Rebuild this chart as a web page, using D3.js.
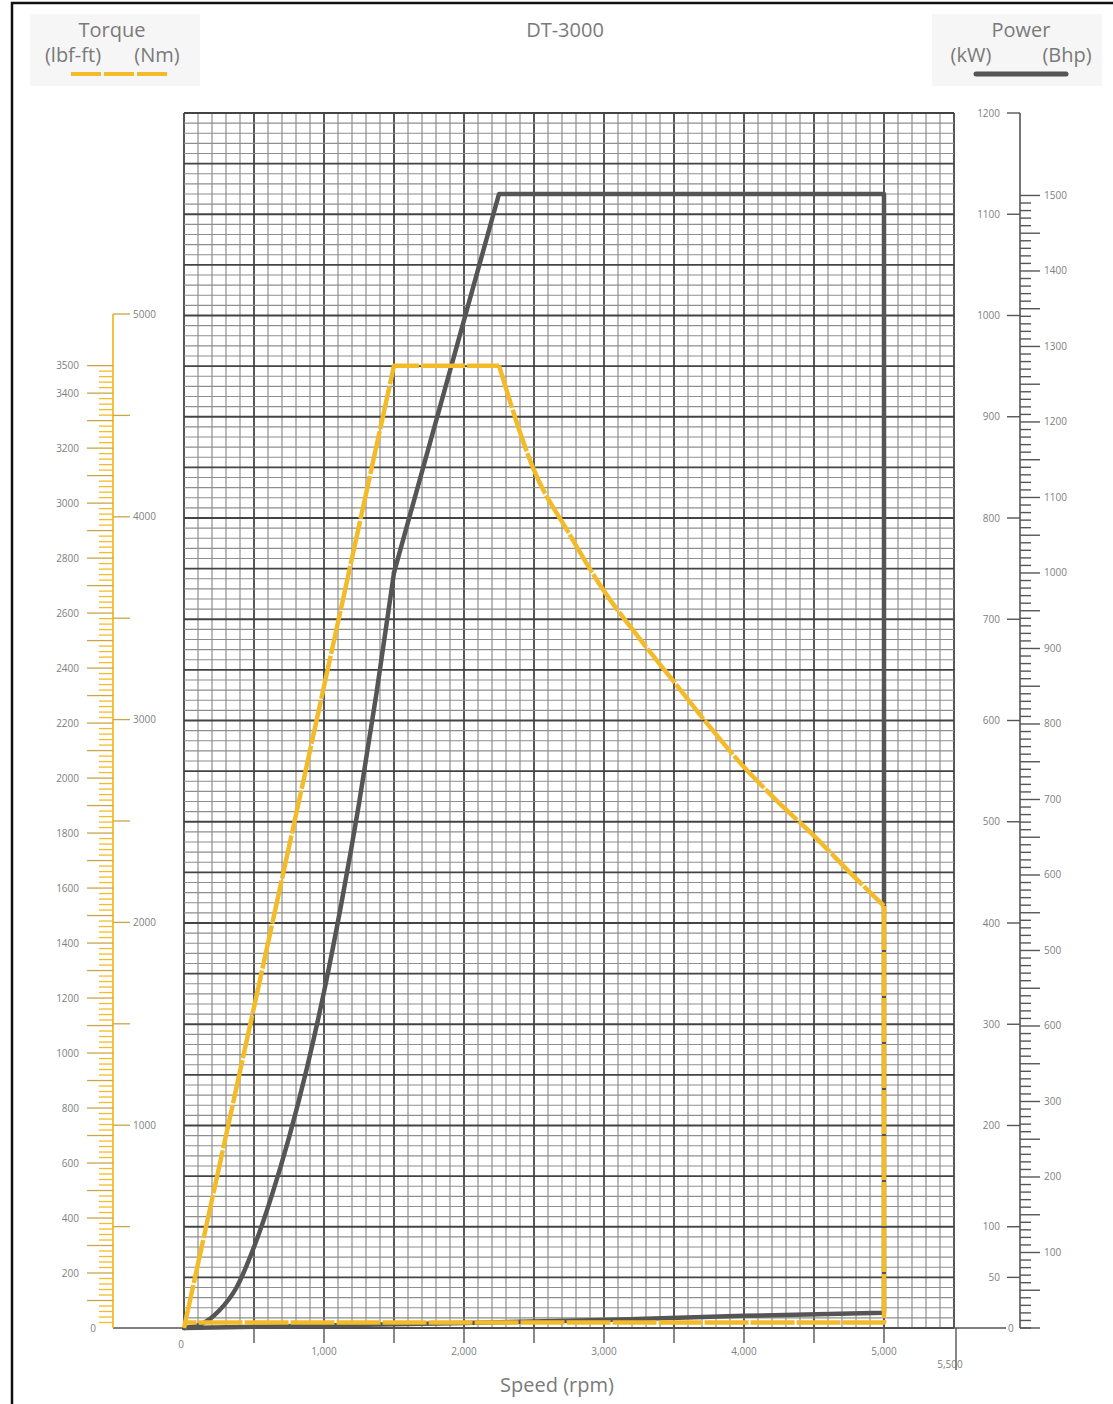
<!DOCTYPE html>
<html>
<head>
<meta charset="utf-8">
<script src="https://cdn.jsdelivr.net/npm/d3@7"></script>
<style>
  html, body { margin: 0; padding: 0; background: #fff; }
  svg { display: block; font-family: "Open Sans", "Liberation Sans", sans-serif; }
  .tick-lbl { font-size: 10px; fill: #808080; }
  .hdr { font-size: 20px; fill: #7a7a7a; }
</style>
</head>
<body>
<svg id="chart" width="1113" height="1404"></svg>
<script>
// speed (rpm) vs torque (lbf-ft); points 2..13 are the curved fall
const torqueSpeed = [0, 1500, 2250, 2500, 2750, 3000, 3250, 3500, 3750, 4000, 4250, 4500, 4750, 5000, 5000, 0];
const torqueLbf   = [0, 3500, 3500, 3120, 2890, 2680, 2510, 2350, 2190, 2040, 1910, 1790, 1660, 1535, 20, 20];

// speed (rpm) vs power (kW); the first 13 points are the curved rise
const powerSpeed = [0, 125, 250, 375, 500, 625, 750, 875, 1000, 1125, 1250, 1375, 1500, 2250, 5000, 5000, 4000, 3000, 2000, 0];
const powerKw    = [0, 4, 17, 40, 80, 130, 188, 255, 332, 420, 518, 627, 746, 1120, 1120, 15, 12, 8, 5, 0];

// axis ticks
const speedTicks = [0, 1000, 2000, 3000, 4000, 5000];
const speedTickLabels = ['0', '1,000', '2,000', '3,000', '4,000', '5,000'];
const kwTicks = [1200, 1100, 1000, 900, 800, 700, 600, 500, 400, 300, 200, 100, 50];
const bhpTicks = [1500, 1400, 1300, 1200, 1100, 1000, 900, 800, 700, 600, 500, 400, 300, 200, 100];
const bhpTickLabels = ['1500', '1400', '1300', '1200', '1100', '1000', '900', '800', '700', '600', '500', '600', '300', '200', '100'];
const lbfTicks = [3500, 3400, 3200, 3000, 2800, 2600, 2400, 2200, 2000, 1800, 1600, 1400, 1200, 1000, 800, 600, 400, 200];
const nmTicks = [5000, 4000, 3000, 2000, 1000];

const YELLOW = '#f3bb2a';
const DARK = '#555555';

const svg = d3.select('#chart');

const x = d3.scaleLinear().domain([0, 5500]).range([184, 954]);
const yKw = d3.scaleLinear().domain([0, 1200]).range([1328, 113]);
const yBhp = d3.scaleLinear().domain([0, 1200 / 0.7457]).range([1328, 113]);
const yNm = d3.scaleLinear().domain([0, 5000]).range([1328, 314]);
const yLbf = d3.scaleLinear().domain([0, 5000 / 1.35582]).range([1328, 314]);

// frame
svg.append('rect').attr('x', 12).attr('y', 3).attr('width', 1130).attr('height', 1430)
  .attr('fill', 'none').attr('stroke', '#111').attr('stroke-width', 2.5);

// faint header boxes like the scan
svg.append('rect').attr('x', 30).attr('y', 14).attr('width', 170).attr('height', 72).attr('fill', '#f6f6f6');
svg.append('rect').attr('x', 932).attr('y', 14).attr('width', 170).attr('height', 72).attr('fill', '#f6f6f6');

// grid
const grid = svg.append('g');
const vLines = d3.range(0, 5501, 100);
const hLines = d3.range(0, 1201, 10);
grid.selectAll('line.v').data(vLines).join('line')
  .attr('x1', d => x(d)).attr('x2', d => x(d))
  .attr('y1', yKw(1200)).attr('y2', yKw(0))
  .attr('stroke', d => d % 500 === 0 ? '#444' : '#8e8e8e')
  .attr('stroke-width', d => d % 500 === 0 ? 1.8 : 1.2);
grid.selectAll('line.h').data(hLines).join('line')
  .attr('x1', x(0)).attr('x2', x(5500))
  .attr('y1', d => yKw(d)).attr('y2', d => yKw(d))
  .attr('stroke', d => d % 50 === 0 ? '#444' : '#8e8e8e')
  .attr('stroke-width', d => d % 50 === 0 ? 1.8 : 1.2);

// baseline
svg.append('line').attr('x1', 113).attr('x2', 1006).attr('y1', yKw(0)).attr('y2', yKw(0))
  .attr('stroke', '#555').attr('stroke-width', 1.6);

// x axis ticks
const xt = svg.append('g');
xt.selectAll('line').data(d3.range(500, 5001, 500)).join('line')
  .attr('x1', d => x(d)).attr('x2', d => x(d))
  .attr('y1', yKw(0)).attr('y2', yKw(0) + 15)
  .attr('stroke', '#555').attr('stroke-width', 1.4);
xt.append('line').attr('x1', x(5500) + 2).attr('x2', x(5500) + 2).attr('y1', yKw(0)).attr('y2', yKw(0) + 42)
  .attr('stroke', '#555').attr('stroke-width', 1.4);
xt.selectAll('text').data(speedTicks).join('text')
  .attr('class', 'tick-lbl')
  .attr('x', d => d === 0 ? x(d) - 3 : x(d))
  .attr('y', d => d === 0 ? yKw(0) + 20 : yKw(0) + 27)
  .attr('text-anchor', 'middle')
  .text((d, i) => speedTickLabels[i]);
xt.append('text').attr('class', 'tick-lbl').attr('x', x(5500) - 4).attr('y', yKw(0) + 40)
  .attr('text-anchor', 'middle').text('5,500');
svg.append('text').attr('class', 'hdr').attr('x', 557).attr('y', 1392)
  .attr('text-anchor', 'middle').attr('fill', '#6a6a6a').text('Speed (rpm)');

// right axis: kW (left side ticks) and Bhp (right side ticks)
const ax = 1020;
const ra = svg.append('g');
ra.append('line').attr('x1', ax).attr('x2', ax).attr('y1', yKw(1200)).attr('y2', yKw(0))
  .attr('stroke', '#555').attr('stroke-width', 1.6);
ra.selectAll('line.kw').data(kwTicks).join('line')
  .attr('x1', ax - 13).attr('x2', ax).attr('y1', d => yKw(d)).attr('y2', d => yKw(d))
  .attr('stroke', '#555').attr('stroke-width', 1.4);
ra.selectAll('text.kw').data(kwTicks).join('text')
  .attr('class', 'tick-lbl').attr('x', ax - 20).attr('y', d => yKw(d) + 3.5)
  .attr('text-anchor', 'end').text(d => d);
ra.append('line').attr('x1', ax).attr('x2', ax + 11).attr('y1', yKw(0)).attr('y2', yKw(0))
  .attr('stroke', '#555').attr('stroke-width', 1.4);
ra.append('text').attr('class', 'tick-lbl').attr('x', 1008).attr('y', yKw(0) + 3.5)
  .attr('text-anchor', 'start').text('0');
const bhpMinor = d3.range(0, 1501, 10);
ra.selectAll('line.bhp').data(bhpMinor).join('line')
  .attr('x1', ax).attr('x2', d => d % 50 === 0 ? ax + 20 : ax + 11)
  .attr('y1', d => yBhp(d)).attr('y2', d => yBhp(d))
  .attr('stroke', '#555').attr('stroke-width', 1.4);
ra.selectAll('text.bhp').data(bhpTicks).join('text')
  .attr('class', 'tick-lbl').attr('x', ax + 24).attr('y', d => yBhp(d) + 3.5)
  .attr('text-anchor', 'start').text((d, i) => bhpTickLabels[i]);

// left axis: lbf-ft (left side ticks) and Nm (right side ticks)
const lx = 113;
const la = svg.append('g');
la.append('line').attr('x1', lx).attr('x2', lx).attr('y1', yNm(5000)).attr('y2', yNm(0))
  .attr('stroke', YELLOW).attr('stroke-width', 1.8);
la.selectAll('line.lbf').data(d3.range(20, 3501, 20)).join('line')
  .attr('x1', d => d % 100 === 0 ? lx - 26 : lx - 14).attr('x2', lx)
  .attr('y1', d => yLbf(d)).attr('y2', d => yLbf(d))
  .attr('stroke', d => d % 100 === 0 ? '#c9a64a' : YELLOW).attr('stroke-width', 1.3);
la.selectAll('text.lbf').data(lbfTicks).join('text')
  .attr('class', 'tick-lbl').attr('x', lx - 34).attr('y', d => yLbf(d) + 3.5)
  .attr('text-anchor', 'end').text(d => d);
la.append('text').attr('class', 'tick-lbl').attr('x', 93).attr('y', yLbf(0) + 3.5)
  .attr('text-anchor', 'middle').text('0');
la.selectAll('line.nm').data(d3.range(500, 5001, 500)).join('line')
  .attr('x1', lx).attr('x2', lx + 17)
  .attr('y1', d => yNm(d)).attr('y2', d => yNm(d))
  .attr('stroke', '#c9a64a').attr('stroke-width', 1.3);
la.selectAll('text.nm').data(nmTicks).join('text')
  .attr('class', 'tick-lbl').attr('x', lx + 20).attr('y', d => yNm(d) + 3.5)
  .attr('text-anchor', 'start').text(d => d);

// curves
const torquePts = torqueSpeed.map((s, i) => [x(s), yLbf(torqueLbf[i])]);
const powerPts = powerSpeed.map((s, i) => [x(s), yKw(powerKw[i])]);
const rise = powerPts.slice(0, 13);
const rest = powerPts.slice(12);

svg.append('path').attr('d', d3.line().curve(d3.curveMonotoneX)(rise))
  .attr('fill', 'none').attr('stroke', DARK).attr('stroke-width', 4.5)
  .attr('stroke-linecap', 'round');
svg.append('path').attr('d', d3.line()(rest))
  .attr('fill', 'none').attr('stroke', DARK).attr('stroke-width', 4.5)
  .attr('stroke-linejoin', 'round').attr('stroke-linecap', 'round');

const tHead = torquePts.slice(0, 3);
const tFall = torquePts.slice(2, 14);
const tTail = torquePts.slice(13);
[[tHead, d3.curveLinear], [tFall, d3.curveMonotoneX], [tTail, d3.curveLinear]].forEach(([pts, crv]) => {
  svg.append('path').attr('d', d3.line().curve(crv)(pts))
    .attr('fill', 'none').attr('stroke', YELLOW).attr('stroke-width', 4.5)
    .attr('stroke-dasharray', '44,2').attr('stroke-linejoin', 'round');
});

// headers
svg.append('text').attr('class', 'hdr').attr('x', 565).attr('y', 37).attr('text-anchor', 'middle').text('DT-3000');
svg.append('text').attr('class', 'hdr').attr('x', 112).attr('y', 37).attr('text-anchor', 'middle').text('Torque');
svg.append('text').attr('class', 'hdr').attr('x', 73).attr('y', 62).attr('text-anchor', 'middle').text('(lbf-ft)');
svg.append('text').attr('class', 'hdr').attr('x', 157).attr('y', 62).attr('text-anchor', 'middle').text('(Nm)');
svg.append('line').attr('x1', 71).attr('x2', 167).attr('y1', 74).attr('y2', 74)
  .attr('stroke', YELLOW).attr('stroke-width', 4).attr('stroke-dasharray', '30,3');
svg.append('text').attr('class', 'hdr').attr('x', 1021).attr('y', 37).attr('text-anchor', 'middle').text('Power');
svg.append('text').attr('class', 'hdr').attr('x', 971).attr('y', 62).attr('text-anchor', 'middle').text('(kW)');
svg.append('text').attr('class', 'hdr').attr('x', 1067).attr('y', 62).attr('text-anchor', 'middle').text('(Bhp)');
svg.append('line').attr('x1', 976).attr('x2', 1066).attr('y1', 74).attr('y2', 74)
  .attr('stroke', DARK).attr('stroke-width', 5).attr('stroke-linecap', 'round');
</script>
</body>
</html>
